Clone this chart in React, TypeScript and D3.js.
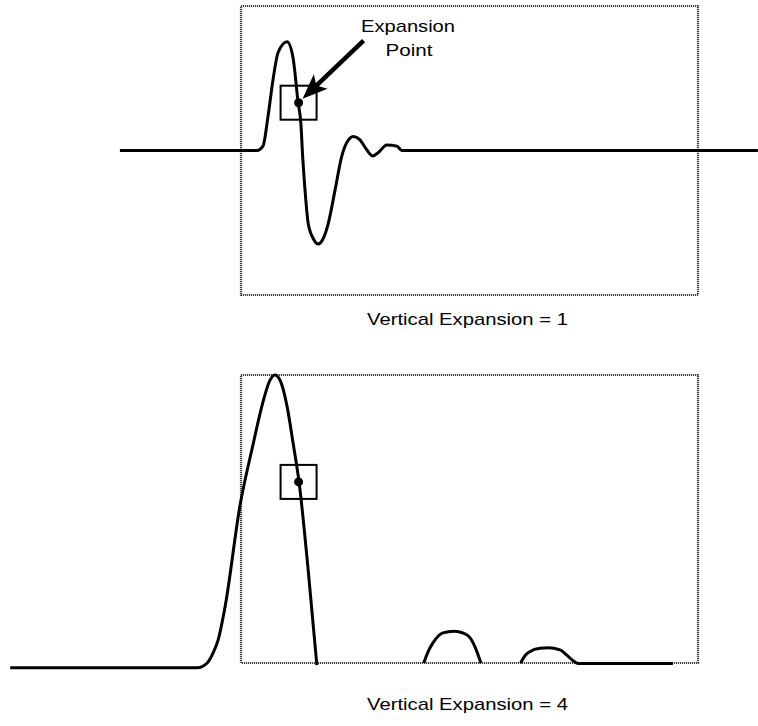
import * as d3 from 'd3';
import React from 'react';

// time axis (ns): the dotted frame spans 0..100
const frameTime = [0, 100];

// top trace, vertical expansion = 1
const topTime = [-26.5, 3.5, 4.8, 5.9, 7.0, 8.1, 10.1, 11.4, 12.5, 13.1, 13.5, 14.0, 14.7, 15.8, 16.9, 18.0, 19.1, 20.6, 22.0, 23.1, 24.6, 26.0, 27.3, 28.8, 30.0, 31.9, 34.1, 35.2, 113.1];
const topAmp = [0, 0, 0.04, 0.31, 0.65, 0.9, 1.0, 0.85, 0.44, 0.25, -0.06, -0.36, -0.67, -0.81, -0.86, -0.81, -0.67, -0.36, -0.06, 0.07, 0.13, 0.1, 0.02, -0.05, -0.02, 0.05, 0.04, 0, 0];

// bottom trace, vertical expansion = 4 (null = trace off screen)
const bottomTime = [
  -50.5, -9.6, -7.4, -6.1, -5.0, -3.5, -0.2, 2.6, 4.8, 6.3, 7.4, 8.5, 10.1, 11.4, 12.7, 14.7, 16.6,
  28.0,
  40.0, 40.9, 42.0, 44.2, 46.6, 49.5, 51.2, 51.9, 52.5,
  56.0,
  61.2, 62.1, 63.2, 65.4, 67.2, 69.8, 71.3, 72.7, 73.8, 94.5,
];
const bottomAmp = [
  -0.006, -0.006, 0.005, 0.028, 0.058, 0.133, 0.367, 0.504, 0.603, 0.652, 0.665, 0.654, 0.592, 0.509, 0.42, 0.218, 0,
  null,
  0.005, 0.03, 0.051, 0.074, 0.078, 0.069, 0.042, 0.023, 0.005,
  null,
  0.005, 0.021, 0.031, 0.039, 0.04, 0.035, 0.023, 0.01, 0.004, 0.004,
];

const gains = [1, 4];
const expansionTime = 12.6;
const expansionAmp = [0.44, 0.42];

const W = 758;
const H = 726;

const panels = [
  { time: topTime, amp: topAmp, ampDomain: [-1.33, 1.33], yRange: [295, 6], labelY: 325 },
  { time: bottomTime, amp: bottomAmp, ampDomain: [0.005, 0.665], yRange: [663, 375], labelY: 710 },
];

const x = d3.scaleLinear().domain(frameTime).range([241, 698]);

const App = () => {
  const font = '"Liberation Sans", Arial, Helvetica, sans-serif';

  return (
    <svg width={W} height={H} style={{ position: 'absolute', left: 0, top: 0, background: '#fff' }}>
      {panels.map((p, i) => {
        const y = d3.scaleLinear().domain(p.ampDomain).range(p.yRange);
        const pts: [number, number | null][] = p.time.map((t, j) => [t, p.amp[j]]);
        const line = d3
          .line<[number, number | null]>()
          .defined((d) => d[1] !== null)
          .x((d) => x(d[0]))
          .y((d) => y(d[1] as number))
          .curve(d3.curveMonotoneX);

        const x0 = x(frameTime[0]);
        const x1 = x(frameTime[1]);
        const yTop = y(p.ampDomain[1]);
        const yBot = y(p.ampDomain[0]);
        const cx = x(expansionTime);
        const cy = y(expansionAmp[i]);

        return (
          <g key={i}>
            <rect
              x={x0}
              y={yTop}
              width={x1 - x0}
              height={yBot - yTop}
              fill="none"
              stroke="#444"
              strokeWidth={2.2}
              strokeDasharray="1.2 0.8"
            />
            <rect x={cx - 18} y={cy - 17} width={36} height={34} fill="none" stroke="#000" strokeWidth={2} />
            <path d={line(pts) || ''} fill="none" stroke="#000" strokeWidth={3} strokeLinejoin="round" />
            <circle cx={cx} cy={cy} r={4.5} fill="#000" />
            <text
              x={(x0 + x1) / 2 - 2}
              y={p.labelY}
              textAnchor="middle"
              fontFamily={font}
              fontSize={17}
              textLength={201}
              lengthAdjust="spacingAndGlyphs"
              fill="#000"
            >
              {`Vertical Expansion = ${gains[i]}`}
            </text>
            {i === 0 && (() => {
              const tip = [cx + 4, cy - 4];
              const tail = [cx + 65, cy - 62];
              const dx = tip[0] - tail[0];
              const dy = tip[1] - tail[1];
              const len = Math.hypot(dx, dy);
              const ux = dx / len;
              const uy = dy / len;
              const px = -uy;
              const py = ux;
              const hl = 25;
              const hw = 10;
              const base = [tip[0] - ux * hl, tip[1] - uy * hl];
              const notch = [tip[0] - ux * (hl - 6), tip[1] - uy * (hl - 6)];
              const head = [
                tip,
                [base[0] + px * hw, base[1] + py * hw],
                notch,
                [base[0] - px * hw, base[1] - py * hw],
              ];
              return (
                <g>
                  <line x1={tail[0]} y1={tail[1]} x2={notch[0]} y2={notch[1]} stroke="#000" strokeWidth={4.5} />
                  <path d={`M${head.map((q) => q.join(',')).join('L')}Z`} fill="#000" />
                  <text x={408} y={32} textAnchor="middle" fontFamily={font} fontSize={17} textLength={94} lengthAdjust="spacingAndGlyphs">
                    Expansion
                  </text>
                  <text x={409} y={56} textAnchor="middle" fontFamily={font} fontSize={17} textLength={47} lengthAdjust="spacingAndGlyphs">
                    Point
                  </text>
                </g>
              );
            })()}
          </g>
        );
      })}
    </svg>
  );
};

export default App;
